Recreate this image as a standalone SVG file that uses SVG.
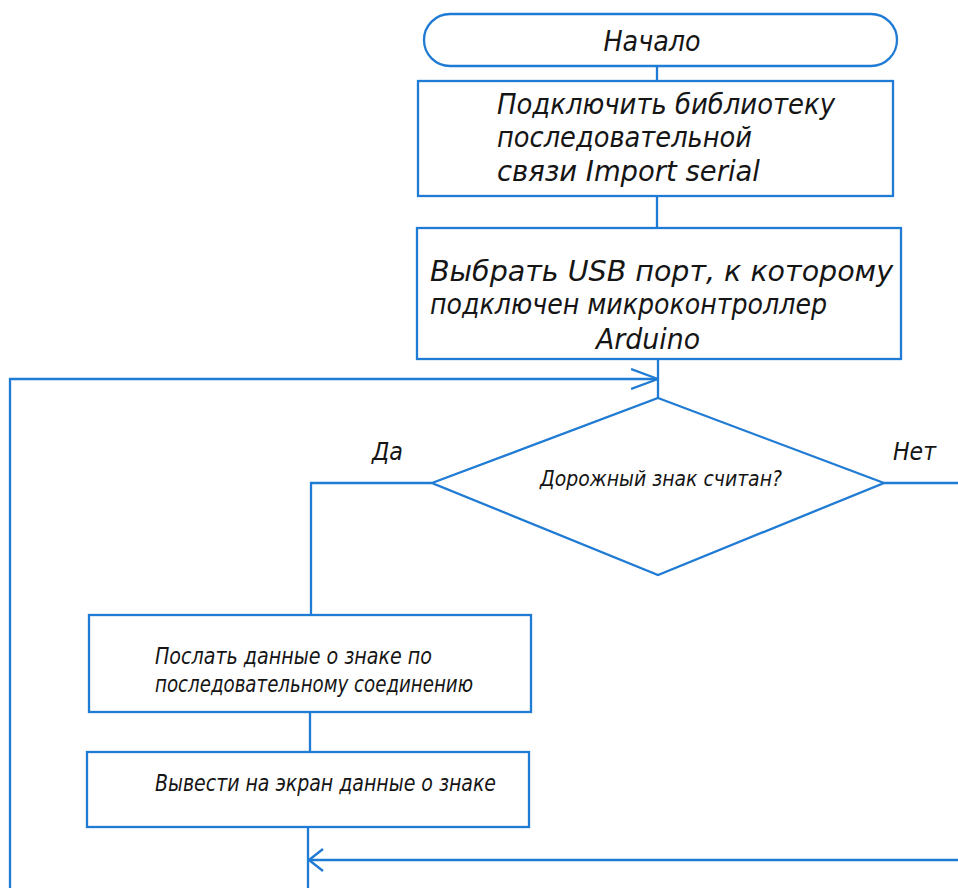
<svg xmlns="http://www.w3.org/2000/svg" width="958" height="888" viewBox="0 0 958 888">
  <style>
    .shape { fill: #ffffff; stroke: #1f7bd3; stroke-width: 2.3; }
    .wire { fill: none; stroke: #1f7bd3; stroke-width: 2.3; }
    .txt { font-family: "DejaVu Sans", "Liberation Sans", sans-serif; font-style: italic; font-stretch: condensed; fill: #151515; }
    .big { font-size: 29px; }
    .small { font-size: 23px; }
    .tiny { font-size: 21px; }
    .mark { font-size: 24px; }
  </style>
  <defs>
    <marker id="openArrow" viewBox="0 0 28 22" refX="27" refY="11" markerWidth="28" markerHeight="22" markerUnits="userSpaceOnUse" orient="auto">
      <path d="M0,1 L27,11 L0,21" fill="none" stroke="#1f7bd3" stroke-width="2.3"/>
    </marker>
    <marker id="shortArrow" viewBox="0 0 16 24" refX="15" refY="12" markerWidth="16" markerHeight="24" markerUnits="userSpaceOnUse" orient="auto">
      <path d="M1,1 L15,12 L1,23" fill="none" stroke="#1f7bd3" stroke-width="2.3"/>
    </marker>
  </defs>

  <rect width="958" height="888" fill="#ffffff"/>

  <!-- connectors -->
  <g id="connectors">
    <path class="wire" d="M657,66 V81"/>
    <path class="wire" d="M657,196 V228"/>
    <path class="wire" d="M658,359 V398"/>
    <path class="wire" d="M432,483 H311 V615"/>
    <path class="wire" d="M310,712 V752"/>
    <path class="wire" d="M308,827 V892 H10 V379 H658" marker-end="url(#openArrow)"/>
    <path class="wire" d="M884,483 H962 V860 H309" marker-end="url(#shortArrow)"/>
  </g>

  <!-- start terminal -->
  <g id="start">
    <rect class="shape" x="424" y="14" width="473" height="52" rx="26" ry="26"/>
    <text class="txt big" x="652" y="51" text-anchor="middle" textLength="97" lengthAdjust="spacingAndGlyphs">Начало</text>
  </g>

  <!-- import serial library -->
  <g id="import">
    <rect class="shape" x="418" y="81" width="475" height="115"/>
    <text class="txt big" x="497" y="114" textLength="338" lengthAdjust="spacingAndGlyphs">Подключить библиотеку</text>
    <text class="txt big" x="497" y="147" textLength="255" lengthAdjust="spacingAndGlyphs">последовательной</text>
    <text class="txt big" x="497" y="181" textLength="263" lengthAdjust="spacingAndGlyphs">связи Import serial</text>
  </g>

  <!-- choose USB port -->
  <g id="port">
    <rect class="shape" x="417" y="228" width="484" height="131"/>
    <text class="txt big" x="430" y="281" textLength="463" lengthAdjust="spacingAndGlyphs">Выбрать USB порт, к которому</text>
    <text class="txt big" x="430" y="314" textLength="397" lengthAdjust="spacingAndGlyphs">подключен микроконтроллер</text>
    <text class="txt big" x="596" y="349" textLength="104" lengthAdjust="spacingAndGlyphs">Arduino</text>
  </g>

  <!-- decision -->
  <g id="decision">
    <polygon class="shape" points="658,398 884,483 658,575 432,483"/>
    <text class="txt tiny" x="540" y="486" textLength="242" lengthAdjust="spacingAndGlyphs">Дорожный знак считан?</text>
  </g>
  <g id="label-yes">
    <text class="txt mark" x="372" y="460" textLength="31" lengthAdjust="spacingAndGlyphs">Да</text>
  </g>
  <g id="label-no">
    <text class="txt mark" x="893" y="460" textLength="43" lengthAdjust="spacingAndGlyphs">Нет</text>
  </g>

  <!-- send sign data -->
  <g id="send">
    <rect class="shape" x="89" y="615" width="442" height="97"/>
    <text class="txt small" x="155" y="664" textLength="277" lengthAdjust="spacingAndGlyphs">Послать данные о знаке по</text>
    <text class="txt small" x="155" y="692" textLength="318" lengthAdjust="spacingAndGlyphs">последовательному соединению</text>
  </g>

  <!-- show sign data -->
  <g id="display">
    <rect class="shape" x="87" y="752" width="442" height="75"/>
    <text class="txt small" x="155" y="791" textLength="341" lengthAdjust="spacingAndGlyphs">Вывести на экран данные о знаке</text>
  </g>
</svg>
